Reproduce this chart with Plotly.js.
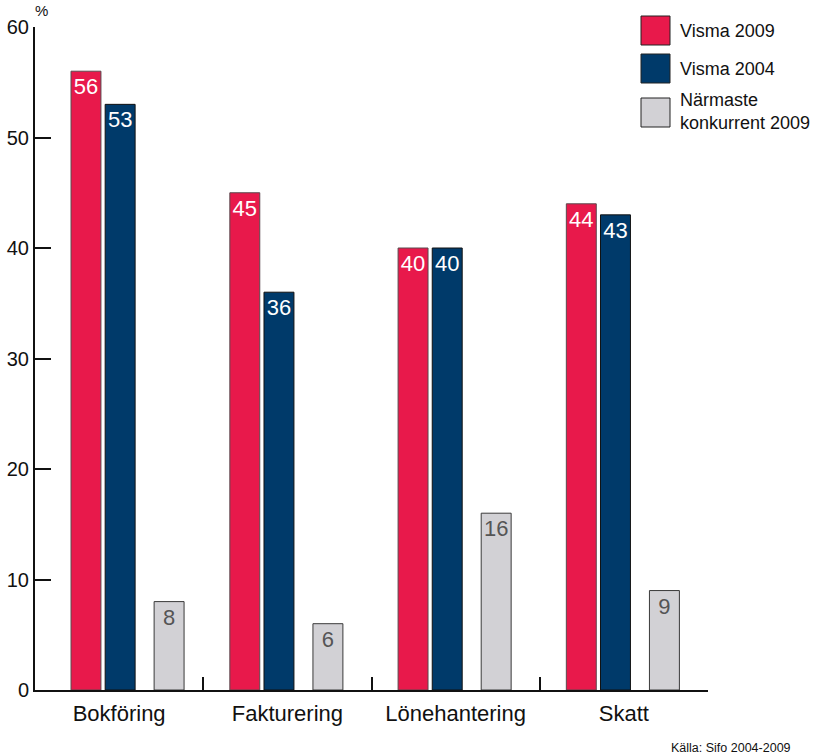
<!DOCTYPE html>
<html>
<head>
<meta charset="utf-8">
<script src="https://cdn.plot.ly/plotly-3.0.1.min.js"></script>
<style>
  html, body { margin: 0; padding: 0; background: #ffffff; }
  #chart { width: 815px; height: 756px; }
</style>
</head>
<body>
<div id="chart"></div>
<script>
  // Values (the labels printed in each bar).
  var categories = ["Bokföring", "Fakturering", "Lönehantering", "Skatt"];
  var visma2009 = [56, 45, 40, 44];
  var visma2004 = [53, 36, 40, 43];
  var konkurrent2009 = [8, 6, 16, 9];
  var seriesNames = ["Visma 2009", "Visma 2004", "Närmaste<br>konkurrent 2009"];
  var yTicks = [0, 10, 20, 30, 40, 50, 60];

  var FONT = "Liberation Sans, Arial, sans-serif";
  var W = 815, H = 756;
  var M = { l: 35, r: 107, t: 27, b: 66 };
  var PW = W - M.l - M.r, PH = H - M.t - M.b;
  function px2x(px) { return (px - M.l) / PW; }
  function px2y(py) { return (H - M.b - py) / PH; }

  var BAR_W = 0.178;
  // left edge of each series relative to the category centre; first group sits a little right
  function offsets(base) {
    return categories.map(function (c, i) { return base + (i === 0 ? 0.056 : 0); });
  }

  var styles = [
    { fill: "#e8194b", line: "#5a4a4e", text: "#ffffff", off: -0.342 },
    { fill: "#003a6a", line: "#111111", text: "#ffffff", off: -0.139 },
    { fill: "#d2d1d5", line: "#3a3a3a", text: "#555555", off: 0.152 }
  ];
  var values = [visma2009, visma2004, konkurrent2009];

  var traces = values.map(function (vals, k) {
    var s = styles[k];
    return {
      type: "bar", x: categories, y: vals, name: seriesNames[k],
      width: BAR_W, offset: offsets(s.off),
      marker: { color: s.fill, line: { color: s.line, width: 1 } },
      texttemplate: "%{y}", textposition: "inside", insidetextanchor: "end",
      textangle: 0, constraintext: "none", cliponaxis: false,
      insidetextfont: { family: FONT, size: 22, color: s.text },
      hoverinfo: "skip", showlegend: false
    };
  });

  // hand-drawn legend: big swatches like the reference
  var legendTops = [16, 54, 98];
  var legendText = [31, 69, 111];
  var shapes = [], annotations = [];
  styles.forEach(function (s, k) {
    shapes.push({
      type: "rect", xref: "paper", yref: "paper",
      x0: px2x(641), x1: px2x(670), y0: px2y(legendTops[k]), y1: px2y(legendTops[k] + 29),
      fillcolor: s.fill, line: { color: "#222222", width: 1 }
    });
    annotations.push({
      xref: "paper", yref: "paper", x: px2x(678), y: px2y(legendText[k]),
      xanchor: "left", yanchor: "middle", align: "left", showarrow: false,
      text: seriesNames[k], font: { family: FONT, size: 18, color: "#111111" }
    });
  });
  annotations.push({
    xref: "paper", yref: "paper", x: px2x(41), y: px2y(10),
    xanchor: "center", yanchor: "middle", showarrow: false,
    text: "%", font: { family: FONT, size: 15, color: "#111111" }
  });
  annotations.push({
    xref: "paper", yref: "paper", x: px2x(793), y: px2y(748),
    xanchor: "right", yanchor: "middle", showarrow: false,
    text: "Källa: Sifo 2004-2009", font: { family: FONT, size: 12.5, color: "#111111" }
  });

  var layout = {
    width: W, height: H, margin: M,
    paper_bgcolor: "#ffffff", plot_bgcolor: "#ffffff",
    font: { family: FONT, color: "#111111" },
    barmode: "group", showlegend: false,
    xaxis: {
      type: "category", range: [-0.5, categories.length - 0.5], fixedrange: true,
      showline: true, linecolor: "#111111", linewidth: 2,
      ticks: "inside", tickson: "boundaries", ticklen: 13, tickwidth: 2, tickcolor: "#111111",
      tickfont: { family: FONT, size: 22, color: "#111111" }, ticklabelstandoff: 3,
      showgrid: false, zeroline: false
    },
    yaxis: {
      range: [0, 60], tickvals: yTicks, fixedrange: true,
      showline: true, linecolor: "#111111", linewidth: 2,
      ticks: "inside", ticklen: 16, tickwidth: 2, tickcolor: "#111111",
      tickfont: { family: FONT, size: 20, color: "#111111" }, ticklabelstandoff: 0,
      showgrid: false, zeroline: false
    },
    shapes: shapes, annotations: annotations
  };

  Plotly.newPlot("chart", traces, layout, { displayModeBar: false, staticPlot: true });
</script>
</body>
</html>
